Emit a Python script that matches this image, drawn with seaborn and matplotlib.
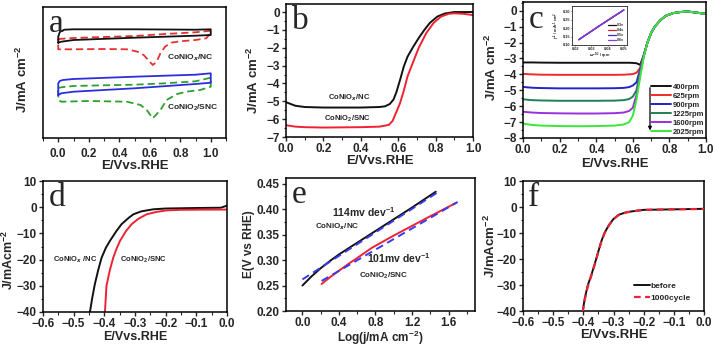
import matplotlib
matplotlib.use('Agg')
import matplotlib.pyplot as plt
from matplotlib.ticker import MultipleLocator, NullLocator, FormatStrFormatter
import seaborn as sns

# ---- a: CV loops (arbitrary current units, no y ticks) ----
cv_nc_x = [0.0, 0.0, 0.01, 0.04, 0.1, 0.5, 0.9, 1.0, 1.0, 1.0, 0.9, 0.5, 0.1, 0.02, 0.0]
cv_nc_y = [9.53, 10.13, 10.6, 10.83, 10.87, 10.87, 10.83, 10.87, 10.63, 10.3, 10.23, 10.03, 9.8, 9.63, 9.53]
cv_nc_o2_x = [0.0, 0.1, 0.3, 0.5, 0.7, 0.9, 1.0, 1.0, 0.97, 0.9, 0.8, 0.74, 0.7, 0.67, 0.645,
              0.62, 0.6, 0.56, 0.52, 0.45, 0.3, 0.1, 0.0, 0.0]
cv_nc_o2_y = [9.9, 10.0, 10.1, 10.2, 10.4, 10.57, 10.73, 10.47, 9.97, 9.8, 9.67, 9.53, 9.13, 8.47, 7.63,
              7.3, 7.63, 8.3, 8.63, 8.87, 8.9, 8.87, 8.87, 9.9]
cv_snc_x = [0.0, 0.0, 0.01, 0.03, 0.1, 0.5, 0.9, 1.0, 1.0, 0.9, 0.5, 0.1, 0.02, 0.0]
cv_snc_y = [4.3, 5.47, 5.7, 5.8, 5.9, 6.13, 6.33, 6.47, 5.53, 5.4, 4.97, 4.63, 4.47, 4.3]
cv_snc_o2_x = [0.0, 0.02, 0.1, 0.3, 0.5, 0.7, 0.9, 1.0, 1.0, 0.93, 0.84, 0.78, 0.71, 0.67, 0.62,
               0.58, 0.54, 0.45, 0.2, 0.02, 0.0, 0.0]
cv_snc_o2_y = [5.0, 5.07, 5.2, 5.27, 5.33, 5.47, 5.67, 6.03, 5.13, 4.8, 4.63, 4.4, 3.8, 2.8, 1.97,
               2.8, 3.3, 3.63, 3.7, 3.63, 3.8, 5.0]

# ---- b: ORR LSV ----
lsv_nc_x = [0.0, 0.05, 0.1, 0.2, 0.3, 0.4, 0.5, 0.53, 0.555, 0.575, 0.59, 0.61, 0.63, 0.65,
            0.68, 0.71, 0.74, 0.77, 0.81, 0.85, 0.9, 1.0]
lsv_nc_y = [-5.05, -5.25, -5.32, -5.35, -5.35, -5.35, -5.32, -5.28, -5.15, -4.9, -4.5, -3.8,
            -3.05, -2.5, -1.95, -1.45, -1.0, -0.6, -0.25, -0.08, 0.0, 0.0]
lsv_snc_x = [0.0, 0.05, 0.1, 0.2, 0.3, 0.4, 0.5, 0.55, 0.57, 0.59, 0.61, 0.63, 0.65, 0.67, 0.71,
             0.75, 0.79, 0.83, 0.87, 0.9, 0.95, 1.0]
lsv_snc_y = [-6.34, -6.42, -6.45, -6.47, -6.46, -6.45, -6.42, -6.32, -6.1, -5.6, -5.1, -4.4,
             -3.6, -3.06, -2.0, -1.18, -0.6, -0.25, -0.1, -0.07, -0.1, -0.17]

# ---- c: rotating speeds ----
rpm_x = [0.0, 0.05, 0.1, 0.2, 0.3, 0.4, 0.5, 0.55, 0.58, 0.6, 0.62, 0.64, 0.66, 0.68, 0.7,
         0.72, 0.75, 0.78, 0.82, 0.86, 0.9, 0.95, 1.0]
rpm_labels = ['400rpm', '625rpm', '900rpm', '1225rpm', '1600rpm', '2025rpm']
rpm_colors = ['#111111', '#f02a2a', '#2323c8', '#1f7f55', '#9a30dd', '#38e838']
rpm_400 = [-3.25, -3.25, -3.26, -3.27, -3.27, -3.27, -3.27, -3.27, -3.27, -3.28, -3.3, -3.4,
           -2.8, -2.0, -1.4, -1.0, -0.6, -0.32, -0.15, -0.08, -0.05, -0.12, -0.2]
rpm_625 = [-3.97, -4.0, -4.02, -4.03, -4.03, -4.03, -4.03, -4.02, -4.0, -3.98, -3.9, -3.6,
           -2.8, -2.0, -1.4, -1.0, -0.6, -0.32, -0.15, -0.08, -0.05, -0.12, -0.2]
rpm_900 = [-4.79, -4.84, -4.86, -4.88, -4.88, -4.88, -4.87, -4.85, -4.8, -4.7, -4.5, -3.7,
           -2.8, -2.0, -1.4, -1.0, -0.6, -0.32, -0.15, -0.08, -0.05, -0.12, -0.2]
rpm_1225 = [-5.57, -5.62, -5.64, -5.66, -5.66, -5.66, -5.65, -5.62, -5.55, -5.4, -5.0, -3.8,
            -2.8, -2.0, -1.4, -1.0, -0.6, -0.32, -0.15, -0.08, -0.05, -0.12, -0.2]
rpm_1600 = [-6.35, -6.4, -6.43, -6.45, -6.46, -6.46, -6.44, -6.4, -6.3, -6.1, -5.3, -4.0,
            -2.85, -2.0, -1.4, -1.0, -0.6, -0.32, -0.15, -0.08, -0.05, -0.12, -0.2]
rpm_2025 = [-7.1, -7.18, -7.22, -7.25, -7.26, -7.25, -7.22, -7.15, -7.0, -6.6, -5.6, -4.2,
            -2.9, -2.0, -1.4, -1.0, -0.6, -0.32, -0.15, -0.08, -0.05, -0.12, -0.2]

# inset: K-L plot
kl_x = [0.0222, 0.0248, 0.0286, 0.0333, 0.04, 0.05]
kl_labels = ['0.3v', '0.4v', '0.5v', '0.6v']
kl_colors = ['#111111', '#d8202a', '#3030d0', '#8a3ae0']
kl_03 = [0.131, 0.148, 0.172, 0.202, 0.244, 0.306]
kl_04 = [0.132, 0.149, 0.173, 0.203, 0.245, 0.307]
kl_05 = [0.131, 0.148, 0.172, 0.203, 0.245, 0.306]
kl_06 = [0.132, 0.149, 0.173, 0.203, 0.245, 0.307]

# ---- d: HER ----
her_nc_x = [-0.447, -0.44, -0.431, -0.42, -0.409, -0.395, -0.382, -0.36, -0.344, -0.32, -0.305,
            -0.28, -0.24, -0.2, -0.1, -0.02, 0.0]
her_nc_y = [-40, -35, -29.4, -24, -19.3, -15.5, -12.9, -9, -6.5, -4, -2.7, -1.6, -0.8, -0.5,
            -0.3, -0.2, 0.6]
her_snc_x = [-0.398, -0.393, -0.382, -0.371, -0.36, -0.349, -0.33, -0.311, -0.29, -0.262, -0.23,
             -0.196, -0.15, -0.1, 0.0]
her_snc_y = [-40, -30, -24, -19.3, -15.8, -12.9, -9.2, -6.5, -4.5, -2.7, -1.8, -1.2, -1.0, -0.95, -0.9]

# ---- e: Tafel ----
tafel_nc_x = [0.0, 0.1, 0.2, 0.3, 0.4, 0.6, 0.8, 1.0, 1.2, 1.46]
tafel_nc_y = [0.25, 0.268, 0.284, 0.298, 0.311, 0.334, 0.357, 0.380, 0.403, 0.434]
tafel_snc_x = [0.21, 0.3, 0.4, 0.5, 0.6, 0.76, 1.0, 1.2, 1.4, 1.68]
tafel_snc_y = [0.253, 0.266, 0.279, 0.292, 0.304, 0.324, 0.348, 0.367, 0.386, 0.412]
fit_nc_x = [0.0, 1.5]
fit_nc_y = [0.262, 0.435]
fit_snc_x = [0.21, 1.70]
fit_snc_y = [0.259, 0.414]

# ---- f: stability ----
stab_x = [-0.402, -0.395, -0.385, -0.374, -0.36, -0.341, -0.33, -0.315, -0.3, -0.283, -0.26,
          -0.24, -0.2, -0.1, 0.0]
stab_before = [-40, -35, -30, -26.4, -21, -13.4, -10, -6.9, -4.6, -3.0, -2.1, -1.7, -1.1, -0.9, -0.7]
stab_after = [-40.5, -35.5, -30.5, -26.6, -21.3, -13.6, -10.2, -7.0, -4.7, -3.1, -2.15, -1.7,
              -1.1, -0.9, -0.75]

sns.set_style('ticks')
plt.rcParams['font.family'] = ['Liberation Sans', 'DejaVu Sans']
plt.rcParams['font.weight'] = 'bold'
plt.rcParams['axes.labelweight'] = 'bold'
plt.rcParams['mathtext.fontset'] = 'custom'
plt.rcParams['mathtext.rm'] = 'Liberation Sans:bold'
plt.rcParams['mathtext.bf'] = 'Liberation Sans:bold'
plt.rcParams['axes.linewidth'] = 1.1

fig = plt.figure(figsize=(7.14, 3.48), dpi=100)

W, H = 714.0, 348.0


def box(x0, y0, x1, y1):
    return [x0 / W, 1 - y1 / H, (x1 - x0) / W, (y1 - y0) / H]


def style(ax, letter, xlabel, ylabel, xl_y, yl_x, yl_y=0.5, tick=8.5, lab=9.5):
    for s in ax.spines.values():
        s.set_visible(True)
        s.set_color('black')
        s.set_linewidth(1.1)
    ax.tick_params(which='major', direction='out', length=3, width=1, labelsize=tick,
                   top=False, right=False, pad=1.5)
    ax.tick_params(which='minor', direction='out', length=1.8, width=0.8, top=False, right=False)
    for t in ax.get_xticklabels() + ax.get_yticklabels():
        t.set_fontweight('bold')
    ax.set_xlabel(xlabel, fontsize=lab, fontweight='bold')
    ax.set_ylabel(ylabel, fontsize=lab, fontweight='bold')
    ax.xaxis.set_label_coords(0.5, xl_y)
    ax.yaxis.set_label_coords(yl_x, yl_y)
    ax.text(0.03, 0.985, letter, transform=ax.transAxes, ha='left', va='top',
            fontsize=24, family='Liberation Serif', fontweight='normal')
    ax.grid(False)
    ax.set_facecolor('white')


def line(ax, x, y, color, ls='-', lw=1.3, label=None, z=2):
    sns.lineplot(x=x, y=y, ax=ax, color=color, lw=lw, linestyle=ls, sort=False,
                 estimator=None, label=label, legend=False, zorder=z)


JY = r'J/mA cm$^{-2}$'
JY2 = r'J/mAcm$^{-2}$'
EX = 'E/Vvs.RHE'
NC = r'CoNiO$_{x}$/NC'
SNC = r'CoNiO$_{2}$/SNC'
DASH = (0, (4, 2.2))

# ---- panel a ----
ax = fig.add_axes(box(43, 7, 226, 138))
line(ax, cv_nc_o2_x, cv_nc_o2_y, '#e83030', DASH)
line(ax, cv_nc_x, cv_nc_y, '#111111')
line(ax, cv_snc_o2_x, cv_snc_o2_y, '#2ea02e', DASH)
line(ax, cv_snc_x, cv_snc_y, '#2d2de0')
ax.set_xlim(-0.1, 1.1)
ax.set_ylim(0, 13.1)
ax.xaxis.set_major_locator(MultipleLocator(0.2))
ax.xaxis.set_minor_locator(MultipleLocator(0.1))
ax.yaxis.set_major_locator(NullLocator())
ax.text(0.71, 8.0, NC, fontsize=6, fontweight='bold', va='center')
ax.text(0.71, 3.0, SNC, fontsize=6, fontweight='bold', va='center')
style(ax, 'a', EX, JY, -0.17, -0.07, 0.45)
ax.tick_params(axis='x', pad=4)

# ---- panel b ----
ax = fig.add_axes(box(286, 4, 473, 137))
line(ax, lsv_nc_x, lsv_nc_y, '#111111', lw=1.4)
line(ax, lsv_snc_x, lsv_snc_y, '#ee2233', lw=1.4)
ax.set_xlim(0, 1.0)
ax.set_ylim(-7, 0.45)
ax.xaxis.set_major_locator(MultipleLocator(0.2))
ax.xaxis.set_minor_locator(MultipleLocator(0.1))
ax.yaxis.set_major_locator(MultipleLocator(1))
ax.yaxis.set_minor_locator(MultipleLocator(0.5))
ax.text(0.34, -4.82, NC, fontsize=5.5, fontweight='bold', ha='center', va='center')
ax.text(0.33, -5.95, SNC, fontsize=5.5, fontweight='bold', ha='center', va='center')
style(ax, 'b', EX, JY, -0.138, -0.134, 0.43)

# ---- panel c ----
ax = fig.add_axes(box(523, 2, 706, 138))
for vals, lab, col in zip([rpm_400, rpm_625, rpm_900, rpm_1225, rpm_1600, rpm_2025],
                          rpm_labels, rpm_colors):
    line(ax, rpm_x, vals, col, lw=1.4, label=lab)
ax.set_xlim(0, 1.0)
ax.set_ylim(-8, 0.55)
ax.xaxis.set_major_locator(MultipleLocator(0.2))
ax.xaxis.set_minor_locator(MultipleLocator(0.1))
ax.yaxis.set_major_locator(MultipleLocator(1))
ax.yaxis.set_minor_locator(MultipleLocator(0.5))
leg = ax.legend(loc='lower right', bbox_to_anchor=(1.0, 0.0), frameon=False,
                prop={'size': 5.5, 'weight': 'bold'}, handlelength=2.6, handletextpad=0.2,
                labelspacing=0.22, borderaxespad=0.15, borderpad=0.1)
ax.annotate('', xy=(0.694, 0.035), xytext=(0.694, 0.39), xycoords='axes fraction',
            arrowprops=dict(arrowstyle='-|>', color='black', lw=0.9, mutation_scale=5))
style(ax, 'c', EX, JY, -0.145, -0.131, 0.52)

# inset
axi = fig.add_axes(box(572, 6, 627, 45))
for vals, lab, col in zip([kl_03, kl_04, kl_05, kl_06], kl_labels, kl_colors):
    line(axi, kl_x, vals, col, lw=0.9, label=lab)
axi.set_xlim(0.018, 0.052)
axi.set_ylim(0.10, 0.33)
axi.set_xticks([0.02, 0.03, 0.04, 0.05])
axi.set_yticks([0.10, 0.15, 0.20, 0.25, 0.30])
axi.tick_params(labelsize=2.8, length=1, width=0.5, pad=0.5, direction='out')
for s in axi.spines.values():
    s.set_linewidth(0.6)
axi.set_xlabel(r'$\omega^{-1/2}$ / rpm', fontsize=2.8, labelpad=0)
axi.set_ylabel(r'j$^{-1}$ / mA$^{-1}$ cm$^{2}$', fontsize=2.8, labelpad=0.5)
axi.legend(loc='lower right', frameon=False, prop={'size': 2.6, 'weight': 'bold'},
           handlelength=2.2, handletextpad=0.3, labelspacing=0.3, borderaxespad=0.4)

# ---- panel d ----
ax = fig.add_axes(box(43, 181, 227, 312))
line(ax, her_nc_x, her_nc_y, '#111111', lw=1.4)
line(ax, her_snc_x, her_snc_y, '#ee2233', lw=1.4)
ax.set_xlim(-0.6, 0.0)
ax.set_ylim(-40, 10)
ax.xaxis.set_major_locator(MultipleLocator(0.1))
ax.xaxis.set_minor_locator(MultipleLocator(0.05))
ax.yaxis.set_major_locator(MultipleLocator(10))
ax.yaxis.set_minor_locator(MultipleLocator(5))
ax.text(-0.496, -19.9, r'CoNiO$_{x}$ /NC', fontsize=5.5, fontweight='bold', ha='center', va='center')
ax.text(-0.273, -19.9, SNC, fontsize=5.5, fontweight='bold', ha='center', va='center')
style(ax, 'd', EX, JY2, -0.145, -0.145, 0.40, lab=9)

# ---- panel e ----
ax = fig.add_axes(box(286, 178, 475, 311))
line(ax, tafel_nc_x, tafel_nc_y, '#111111', lw=1.4)
line(ax, tafel_snc_x, tafel_snc_y, '#ee2233', lw=1.4)
line(ax, fit_nc_x, fit_nc_y, '#3a3aee', (0, (4, 2.5)), lw=1.4, z=3)
line(ax, fit_snc_x, fit_snc_y, '#3a3aee', (0, (4, 2.5)), lw=1.4, z=3)
ax.set_xlim(-0.18, 1.89)
ax.set_ylim(0.2, 0.461)
ax.xaxis.set_major_locator(MultipleLocator(0.4))
ax.xaxis.set_minor_locator(MultipleLocator(0.2))
ax.yaxis.set_major_locator(MultipleLocator(0.05))
ax.yaxis.set_minor_locator(MultipleLocator(0.025))
ax.yaxis.set_major_formatter(FormatStrFormatter('%.2f'))
ax.xaxis.set_major_formatter(FormatStrFormatter('%.1f'))
ax.text(0.67, 0.395, r'114mv dev$^{-1}$', fontsize=7.5, fontweight='bold', ha='center', va='center')
ax.text(0.38, 0.366, NC, fontsize=5.8, fontweight='bold', ha='center', va='center')
ax.text(1.05, 0.304, r'101mv dev$^{-1}$', fontsize=7.5, fontweight='bold', ha='center', va='center')
ax.text(0.885, 0.270, SNC, fontsize=5.8, fontweight='bold', ha='center', va='center')
style(ax, 'e', r'Log(j/mA cm$^{-2}$)', 'E(V vs RHE)', -0.135, -0.165, 0.5, lab=8.5)

# ---- panel f ----
ax = fig.add_axes(box(523, 181, 704, 311))
line(ax, stab_x, stab_before, '#111111', lw=1.4, label='before')
line(ax, stab_x, stab_after, '#ee2233', (0, (3, 2)), lw=1.6, label='1000cycle', z=3)
ax.set_xlim(-0.6, 0.0)
ax.set_ylim(-40, 10)
ax.xaxis.set_major_locator(MultipleLocator(0.1))
ax.xaxis.set_minor_locator(MultipleLocator(0.05))
ax.yaxis.set_major_locator(MultipleLocator(10))
ax.yaxis.set_minor_locator(MultipleLocator(5))
ax.legend(loc='lower right', bbox_to_anchor=(0.95, 0.04), frameon=False,
          prop={'size': 6, 'weight': 'bold'}, handlelength=1.9, handletextpad=0.1,
          labelspacing=0.5, borderaxespad=0.1)
style(ax, 'f', EX, JY2, -0.138, -0.138, 0.5)

fig.savefig('out.png', dpi=100)
